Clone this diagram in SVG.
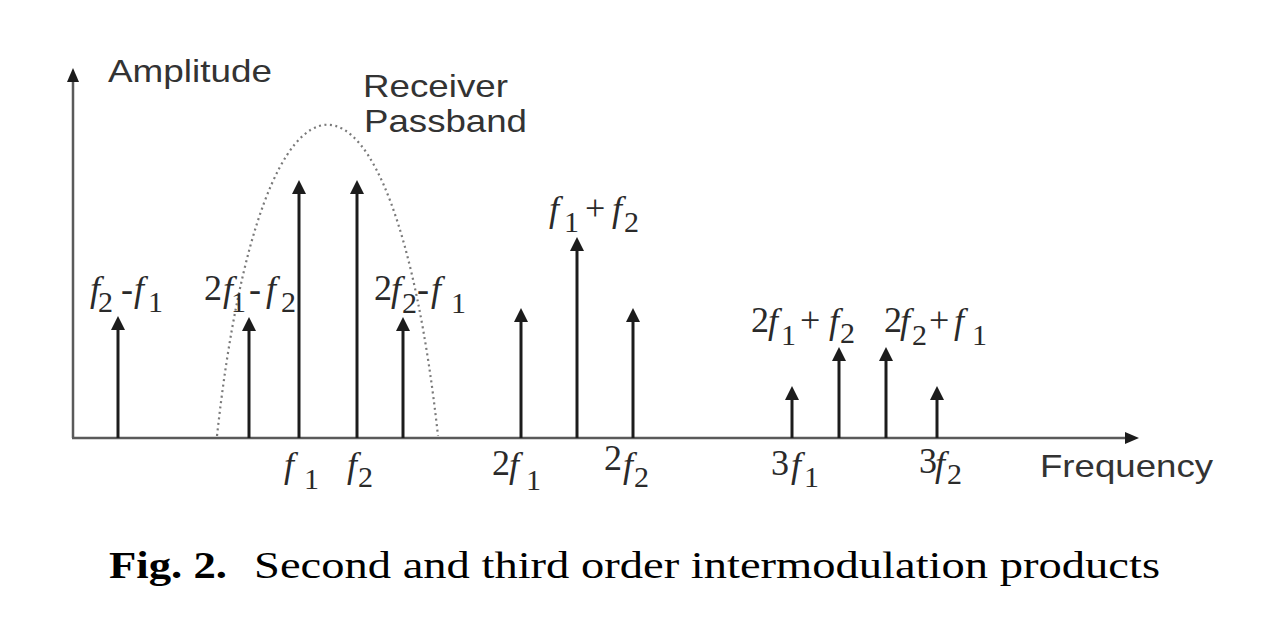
<svg xmlns="http://www.w3.org/2000/svg" width="1262" height="638" viewBox="0 0 1262 638">
<defs>
<style>
.axis{stroke:#5a5a5a;stroke-width:2.5;fill:none}
.stem{stroke:#1c1c1c;stroke-width:3;fill:none}
.head{fill:#1c1c1c}
.pass{stroke:#7a7a7a;stroke-width:2.2;stroke-dasharray:2 3.5;fill:none}
.sans{font-family:"Liberation Sans",Arial,sans-serif;font-size:32px;fill:#333}
.m{font-family:"Liberation Serif","Times New Roman",serif;font-size:36px;fill:#2a2a2a}
.i{font-style:italic}
.s{font-size:30px}
.cap{font-family:"Liberation Serif","Times New Roman",serif;font-size:37px;fill:#000}
</style>
</defs>
<rect width="1262" height="638" fill="#fff"/>
<g id="axes">
<line class="axis" x1="73" y1="438" x2="73" y2="80"/>
<polygon class="head" points="73,68 67,82 79,82"/>
<line class="axis" x1="72" y1="438" x2="1126" y2="438"/>
<polygon class="head" points="1139,438 1125,432 1125,444"/>
</g>
<g id="passband">
<path class="pass" d="M217,436 C262,21 393,21 438,436"/>
</g>
<g id="connectors">
<g id="a-f2mf1"><line class="stem" x1="118" y1="438" x2="118" y2="325"/><polygon class="head" points="118,316 111,330 125,330"/></g>
<g id="a-2f1mf2"><line class="stem" x1="249" y1="438" x2="249" y2="326"/><polygon class="head" points="249,317 242,331 256,331"/></g>
<g id="a-f1"><line class="stem" x1="299" y1="438" x2="299" y2="189"/><polygon class="head" points="299,180 292,194 306,194"/></g>
<g id="a-f2"><line class="stem" x1="357" y1="438" x2="357" y2="189"/><polygon class="head" points="357,180 350,194 364,194"/></g>
<g id="a-2f2mf1"><line class="stem" x1="403" y1="438" x2="403" y2="326"/><polygon class="head" points="403,317 396,331 410,331"/></g>
<g id="a-2f1"><line class="stem" x1="521" y1="438" x2="521" y2="317"/><polygon class="head" points="521,308 514,322 528,322"/></g>
<g id="a-f1pf2"><line class="stem" x1="577" y1="438" x2="577" y2="246"/><polygon class="head" points="577,237 570,251 584,251"/></g>
<g id="a-2f2"><line class="stem" x1="633" y1="438" x2="633" y2="317"/><polygon class="head" points="633,308 626,322 640,322"/></g>
<g id="a-3f1"><line class="stem" x1="792" y1="438" x2="792" y2="395"/><polygon class="head" points="792,386 785,400 799,400"/></g>
<g id="a-2f1pf2"><line class="stem" x1="839" y1="438" x2="839" y2="356"/><polygon class="head" points="839,347 832,361 846,361"/></g>
<g id="a-2f2pf1"><line class="stem" x1="886" y1="438" x2="886" y2="356"/><polygon class="head" points="886,347 879,361 893,361"/></g>
<g id="a-3f2"><line class="stem" x1="937" y1="438" x2="937" y2="395"/><polygon class="head" points="937,386 930,400 944,400"/></g>
</g>
<g id="axis-labels">
<text class="sans" x="108" y="82" textLength="164" lengthAdjust="spacingAndGlyphs">Amplitude</text>
<text class="sans" x="363" y="97" textLength="145" lengthAdjust="spacingAndGlyphs">Receiver</text>
<text class="sans" x="364" y="132" textLength="163" lengthAdjust="spacingAndGlyphs">Passband</text>
<text class="sans" x="1040" y="477" textLength="173" lengthAdjust="spacingAndGlyphs">Frequency</text>
</g>
<g id="top-labels">
<text class="m"><tspan class="i" x="90" y="301">f</tspan><tspan class="s" x="98" y="312">2</tspan><tspan x="121" y="301">-</tspan><tspan class="i" x="134" y="301">f</tspan><tspan class="s" x="148" y="312">1</tspan></text>
<text class="m"><tspan x="204" y="300">2</tspan><tspan class="i" x="223" y="301">f</tspan><tspan class="s" x="231" y="312">1</tspan><tspan x="249" y="301">-</tspan><tspan class="i" x="266" y="301">f</tspan><tspan class="s" x="281" y="312">2</tspan></text>
<text class="m"><tspan x="374" y="300">2</tspan><tspan class="i" x="391" y="301">f</tspan><tspan class="s" x="402" y="313">2</tspan><tspan x="417" y="301">-</tspan><tspan class="i" x="431" y="301">f</tspan><tspan class="s" x="451" y="313">1</tspan></text>
<text class="m"><tspan class="i" x="549" y="221">f</tspan><tspan class="s" x="564" y="232">1</tspan><tspan x="585" y="220">+</tspan><tspan class="i" x="612" y="221">f</tspan><tspan class="s" x="624" y="232">2</tspan></text>
<text class="m"><tspan x="751" y="332">2</tspan><tspan class="i" x="768" y="333">f</tspan><tspan class="s" x="781" y="345">1</tspan><tspan x="800" y="332">+</tspan><tspan class="i" x="829" y="333">f</tspan><tspan class="s" x="840" y="343">2</tspan></text>
<text class="m"><tspan x="884" y="332">2</tspan><tspan class="i" x="900" y="333">f</tspan><tspan class="s" x="912" y="345">2</tspan><tspan x="929" y="332">+</tspan><tspan class="i" x="954" y="333">f</tspan><tspan class="s" x="972" y="345">1</tspan></text>
</g>
<g id="bottom-labels">
<text class="m"><tspan class="i" x="284" y="477">f</tspan><tspan class="s" x="304" y="489">1</tspan></text>
<text class="m"><tspan class="i" x="347" y="477">f</tspan><tspan class="s" x="358" y="487">2</tspan></text>
<text class="m"><tspan x="492" y="475">2</tspan><tspan class="i" x="509" y="477">f</tspan><tspan class="s" x="526" y="490">1</tspan></text>
<text class="m"><tspan x="604" y="470">2</tspan><tspan class="i" x="623" y="477">f</tspan><tspan class="s" x="634" y="487">2</tspan></text>
<text class="m"><tspan x="771" y="475">3</tspan><tspan class="i" x="791" y="477">f</tspan><tspan class="s" x="804" y="487">1</tspan></text>
<text class="m"><tspan x="919" y="473">3</tspan><tspan class="i" x="935" y="476">f</tspan><tspan class="s" x="947" y="484">2</tspan></text>
</g>
<g id="caption">
<text class="cap" x="109" y="578" font-weight="bold" textLength="118" lengthAdjust="spacingAndGlyphs">Fig. 2.</text>
<text class="cap" x="254" y="578" textLength="906" lengthAdjust="spacingAndGlyphs">Second and third order intermodulation products</text>
</g>
</svg>
